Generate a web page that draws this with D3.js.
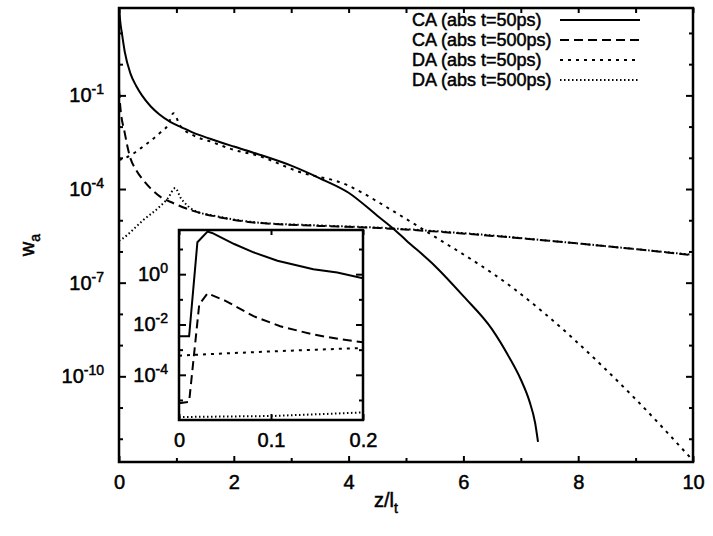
<!DOCTYPE html>
<html>
<head>
<meta charset="utf-8">
<script src="https://cdn.jsdelivr.net/npm/d3@7"></script>
<style>
  body { margin: 0; background: #fff; }
  svg text { font-family: "Liberation Sans", Arial, sans-serif; fill: #000; stroke: #000; stroke-width: 0.5px; }
</style>
</head>
<body>
<div id="chart"></div>
<script>
// ---- main panel data (z/l_t, w_a) ----
const caShortZ = [0, 0.02, 0.05, 0.1, 0.2, 0.3, 0.4, 0.55, 0.7, 0.9, 1.1, 1.3, 1.6, 2.0, 2.4, 3.0, 3.5, 4.0, 4.5, 4.8, 5.0, 5.5, 6.0, 6.5, 6.8, 7.0, 7.15, 7.25, 7.3];
const caShortW = [79, 25, 10, 2.5, 0.5, 0.2, 0.1, 0.045, 0.025, 0.014, 9.3e-3, 6.3e-3, 4.0e-3, 2.3e-3, 1.35e-3, 5.6e-4, 2.2e-4, 7.6e-5, 1.4e-5, 5.0e-6, 2.3e-6, 3.5e-7, 3.7e-8, 3.2e-9, 4.0e-10, 7.9e-11, 1.6e-11, 3.2e-12, 7.9e-13];

const caLongZ = [0, 0.02, 0.1, 0.19, 0.3, 0.42, 0.55, 0.71, 0.95, 1.29, 1.7, 2.4, 3.5, 4.55, 6.29, 8, 10];
const caLongW = [0.16, 0.05, 6.3e-3, 1.1e-3, 4.0e-4, 1.95e-4, 1.05e-4, 5.8e-5, 3.5e-5, 2.0e-5, 1.3e-5, 8.3e-6, 6.6e-6, 5.6e-6, 3.4e-6, 1.8e-6, 7.6e-7];

const daShortZ = [0, 0.16, 0.42, 0.71, 0.85, 0.95, 1.06, 1.3, 1.6, 2.0, 2.4, 3.15, 3.97, 4.25, 4.55, 5.36, 6.87, 8.96, 10];
const daShortW = [8.5e-4, 1.1e-3, 2.3e-3, 6.2e-3, 1.1e-2, 2.7e-2, 1.1e-2, 5.2e-3, 3.3e-3, 1.8e-3, 1.2e-3, 3.5e-4, 1.35e-4, 7.4e-5, 3.5e-5, 4.3e-6, 6.6e-8, 2.2e-11, 2.0e-13];

const daLongZ = [0, 0.05, 0.42, 0.71, 0.85, 0.98, 1.08, 1.18, 1.3, 1.7, 2.4, 3.5, 4.55, 6.29, 8, 10];
const daLongW = [2.2e-6, 2.5e-6, 1.0e-5, 2.75e-5, 5.0e-5, 1.07e-4, 5.0e-5, 3.1e-5, 2.1e-5, 1.35e-5, 8.5e-6, 6.8e-6, 5.75e-6, 3.5e-6, 1.8e-6, 7.8e-7];

// ---- inset data (first 0.2 of z/l_t) ----
const inCaShortZ = [0, 0.011, 0.02, 0.031, 0.036, 0.06, 0.081, 0.107, 0.146, 0.172, 0.2];
const inCaShortW = [3.4e-3, 3.4e-3, 18.6, 49, 43.6, 15.8, 7.4, 3.4, 1.58, 1.17, 0.68];
const inCaLongZ = [0, 0.011, 0.022, 0.031, 0.05, 0.081, 0.11, 0.146, 0.175, 0.2];
const inCaLongW = [7.4e-6, 8.5e-6, 0.063, 0.174, 0.089, 0.0214, 8.5e-3, 4.0e-3, 2.6e-3, 1.95e-3];
const inDaShortZ = [0, 0.02, 0.05, 0.1, 0.15, 0.2];
const inDaShortW = [5.75e-4, 6.3e-4, 7.1e-4, 8.5e-4, 1.0e-3, 1.17e-3];
const inDaLongZ = [0, 0.05, 0.1, 0.15, 0.2];
const inDaLongW = [2.1e-6, 2.2e-6, 2.3e-6, 2.7e-6, 3.2e-6];

// ---- axes ----
const mainZRange = [0, 10];
const mainWRange = [1.8e-13, 63];
const mainXTicks = [0, 2, 4, 6, 8, 10];
const mainXMinor = [1, 3, 5, 7, 9];
const mainYTicks = [1e-1, 1e-4, 1e-7, 1e-10];
const mainYMinor = [1e1, 1e0, 1e-2, 1e-3, 1e-5, 1e-6, 1e-8, 1e-9, 1e-11, 1e-12];

const inZRange = [0, 0.2];
const inWRange = [1.6e-6, 57];
const inXTicks = [0, 0.1, 0.2];
const inYTicks = [1e0, 1e-2, 1e-4];
const inYMinor = [1e1, 1e-1, 1e-3, 1e-5];

const seriesNames = ['CA (abs t=50ps)', 'CA (abs t=500ps)', 'DA (abs t=50ps)', 'DA (abs t=500ps)'];
const dashes = [null, '9,5', '3,5', '1.5,2.5'];

const zip = (a, b) => a.map((v, i) => [v, b[i]]);
const mainSeries = [zip(caShortZ, caShortW), zip(caLongZ, caLongW), zip(daShortZ, daShortW), zip(daLongZ, daLongW)];
const inSeries = [zip(inCaShortZ, inCaShortW), zip(inCaLongZ, inCaLongW), zip(inDaShortZ, inDaShortW), zip(inDaLongZ, inDaLongW)];

const width = 713;
const height = 536;
const labelSize = 20;

const svg = d3.select('#chart')
  .append('svg')
  .attr('width', width)
  .attr('height', height);

// superscript power-of-ten labels
function powLabel(sel) {
  sel.each(function (d) {
    const t = d3.select(this).text(null);
    t.append('tspan').text('10');
    t.append('tspan')
      .attr('dy', -8)
      .attr('font-size', 14)
      .text(Math.round(Math.log10(d)));
  });
}

function panel(box, xDom, yDom, series, opts) {
  const w = box.w;
  const h = box.h;
  const x = d3.scaleLinear().domain(xDom).range([0, w]);
  const y = d3.scaleLog().domain(yDom).range([h, 0]);

  const g = svg.append('g').attr('transform', `translate(${box.x},${box.y})`);

  g.append('rect')
    .attr('width', w)
    .attr('height', h)
    .attr('fill', '#fff');

  const clipId = `clip-${opts.id}`;
  g.append('clipPath').attr('id', clipId)
    .append('rect').attr('width', w).attr('height', h);

  const line = d3.line()
    .curve(opts.curve)
    .x(d => x(d[0]))
    .y(d => y(d[1]));

  g.append('g')
    .attr('clip-path', `url(#${clipId})`)
    .selectAll('path')
    .data(series)
    .enter()
    .append('path')
    .attr('d', line)
    .attr('fill', 'none')
    .attr('stroke', '#000')
    .attr('stroke-width', 2)
    .attr('stroke-dasharray', (d, i) => dashes[i]);

  const tickStyle = a => {
    a.select('.domain').remove();
    a.selectAll('line').attr('stroke', '#000').attr('stroke-width', 2);
    a.selectAll('text').attr('font-size', labelSize).attr('font-family', null);
  };

  // bottom / top
  g.append('g')
    .attr('transform', `translate(0,${h})`)
    .call(d3.axisBottom(x).tickValues(opts.xTicks).tickSize(-6).tickPadding(opts.xPad).tickFormat(d3.format('')))
    .call(tickStyle);
  g.append('g')
    .attr('transform', `translate(0,${h})`)
    .call(d3.axisBottom(x).tickValues(opts.xMinor).tickSize(-4).tickFormat(''))
    .call(tickStyle);
  g.append('g')
    .call(d3.axisTop(x).tickValues(opts.xTicks.concat(opts.xMinor)).tickSize(-5).tickFormat(''))
    .call(tickStyle);

  // left / right
  g.append('g')
    .call(d3.axisLeft(y).tickValues(opts.yTicks).tickSize(-7).tickPadding(opts.yPad))
    .call(tickStyle)
    .call(a => a.selectAll('text').call(powLabel));
  g.append('g')
    .call(d3.axisLeft(y).tickValues(opts.yMinor).tickSize(-4).tickFormat(''))
    .call(tickStyle);
  g.append('g')
    .attr('transform', `translate(${w},0)`)
    .call(d3.axisRight(y).tickValues(opts.yTicks).tickSize(-7).tickFormat(''))
    .call(tickStyle);
  g.append('g')
    .attr('transform', `translate(${w},0)`)
    .call(d3.axisRight(y).tickValues(opts.yMinor).tickSize(-4).tickFormat(''))
    .call(tickStyle);

  g.append('rect')
    .attr('width', w)
    .attr('height', h)
    .attr('fill', 'none')
    .attr('stroke', '#000')
    .attr('stroke-width', 2.5);

  return g;
}

const main = panel({ x: 119, y: 8, w: 574, h: 454 }, mainZRange, mainWRange, mainSeries, {
  id: 'main', curve: d3.curveMonotoneX, xTicks: mainXTicks, xMinor: mainXMinor, yTicks: mainYTicks, yMinor: mainYMinor, xPad: 13, yPad: 15
});

panel({ x: 179, y: 230, w: 184, h: 190 }, inZRange, inWRange, inSeries, {
  id: 'inset', curve: d3.curveLinear, xTicks: inXTicks, xMinor: [], yTicks: inYTicks, yMinor: inYMinor, xPad: 13, yPad: 11
});

// legend
const legend = main.append('g').attr('transform', 'translate(293,12)');
const item = legend.selectAll('g')
  .data(seriesNames)
  .enter()
  .append('g')
  .attr('transform', (d, i) => `translate(0,${i * 20})`);
item.append('text')
  .attr('y', 6)
  .attr('font-size', 18)
  .text(d => d);
item.append('line')
  .attr('x1', 148)
  .attr('x2', 228)
  .attr('stroke', '#000')
  .attr('stroke-width', 2)
  .attr('stroke-dasharray', (d, i) => dashes[i]);

// axis titles
const xt = svg.append('text')
  .attr('x', 386)
  .attr('y', 507)
  .attr('text-anchor', 'middle')
  .attr('font-size', 20);
xt.append('tspan').text('z/l');
xt.append('tspan').attr('dy', 6).attr('font-size', 14).text('t');

const yt = svg.append('text')
  .attr('transform', 'translate(34,245) rotate(-90)')
  .attr('text-anchor', 'middle')
  .attr('font-size', 20);
yt.append('tspan').text('w');
yt.append('tspan').attr('dy', 6).attr('font-size', 14).text('a');
</script>
</body>
</html>
